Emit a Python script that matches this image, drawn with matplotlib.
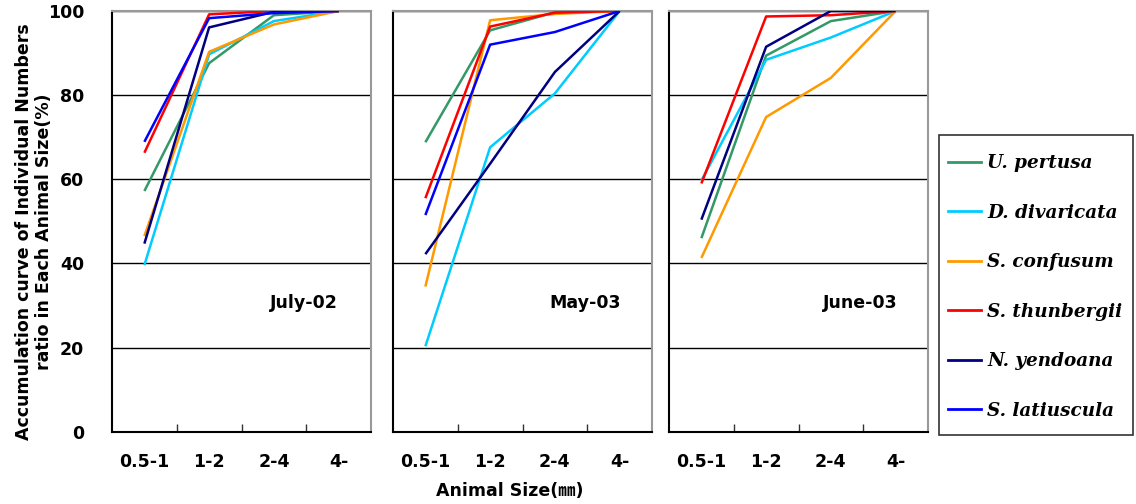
import matplotlib
matplotlib.use("Agg")
import matplotlib.pyplot as plt
from matplotlib.lines import Line2D
from matplotlib.patches import Rectangle

categories = ["0.5-1", "1-2", "2-4", "4-"]
species = ["U. pertusa", "D. divaricata", "S. confusum", "S. thunbergii", "N. yendoana", "S. latiuscula"]
colors = ["#339966", "#00CCFF", "#FF9900", "#FF0000", "#000080", "#0000FF"]
periods = ["July-02", "May-03", "June-03"]

july02_pertusa = [57.2, 87.6, 99.0, 100]
july02_divaricata = [39.6, 89.7, 97.6, 100]
july02_confusum = [46.5, 90.3, 96.8, 100]
july02_thunbergii = [66.3, 99.2, 100, 100]
july02_yendoana = [44.7, 96.1, 99.8, 100]
july02_latiuscula = [68.9, 98.3, 99.5, 100]

may03_pertusa = [68.8, 95.4, 99.7, 100]
may03_divaricata = [20.3, 67.6, 80.4, 100]
may03_confusum = [34.5, 97.8, 99.3, 100]
may03_thunbergii = [55.5, 96.3, 99.6, 100]
may03_yendoana = [42.2, 63.7, 85.5, 100]
may03_latiuscula = [51.5, 92.0, 95.0, 100]

june03_pertusa = [46.0, 89.4, 97.6, 100]
june03_divaricata = [59.7, 88.4, 93.7, 100]
june03_confusum = [41.3, 74.8, 84.1, 100]
june03_thunbergii = [59.0, 98.7, 99.0, 100]
june03_yendoana = [50.4, 91.5, 100, 100]
june03_latiuscula = [None, None, None, None]

data = [
    [july02_pertusa, july02_divaricata, july02_confusum, july02_thunbergii, july02_yendoana, july02_latiuscula],
    [may03_pertusa, may03_divaricata, may03_confusum, may03_thunbergii, may03_yendoana, may03_latiuscula],
    [june03_pertusa, june03_divaricata, june03_confusum, june03_thunbergii, june03_yendoana, june03_latiuscula],
]

GOTHIC = ["DejaVu Sans", "Noto Sans CJK JP"]
FS = 12.5

W, H = 1136, 504
fig = plt.figure(figsize=(W / 100, H / 100), dpi=100)

lefts = [112, 393, 669]
pw = 259
top_px, bot_px = 11, 431.7
x = list(range(len(categories)))

for i, (lp, period) in enumerate(zip(lefts, periods)):
    ax = fig.add_axes([lp / W, 1 - bot_px / H, pw / W, (bot_px - top_px) / H])
    for vals, col in zip(data[i], colors):
        if vals[0] is None:
            continue
        ax.plot(x, vals, color=col, lw=1.8, solid_capstyle="butt", zorder=3)
    ax.set_xlim(-0.5, 3.5)
    ax.set_ylim(0, 100)
    ax.set_yticks([0, 20, 40, 60, 80, 100])
    ax.yaxis.grid(True, color="black", lw=1)
    ax.set_axisbelow(True)
    ax.tick_params(axis="y", length=0, pad=20)
    if i == 0:
        ax.set_yticklabels([str(v) for v in [0, 20, 40, 60, 80, 100]],
                           fontsize=FS, fontweight="bold", family=GOTHIC)
    else:
        ax.set_yticklabels([])
    ax.set_xticks(x)
    ax.set_xticklabels(categories, fontsize=FS, fontweight="bold", family=GOTHIC)
    ax.tick_params(axis="x", which="major", length=0, pad=15)
    ax.set_xticks([0.5, 1.5, 2.5], minor=True)
    ax.tick_params(axis="x", which="minor", direction="in", length=6, width=1, color="#333333")
    for s in ["left", "bottom"]:
        ax.spines[s].set_color("black")
        ax.spines[s].set_linewidth(1.5)
    for s in ["top", "right"]:
        ax.spines[s].set_color("#999999")
        ax.spines[s].set_linewidth(1.5)
    ax.text(0.74, 0.305, period, transform=ax.transAxes, ha="center", va="center",
            fontsize=FS, fontweight="bold", family=GOTHIC)

fig.text(34 / W, 1 - 232 / H,
         "Accumulation curve of Individual Numbers\nratio in Each Animal Size(%)",
         rotation=90, ha="center", va="center", fontsize=FS, fontweight="bold",
         family=GOTHIC, linespacing=1.15)
fig.text(510 / W, 1 - 491 / H, "Animal Size(㎜)", ha="center", va="center",
         fontsize=FS, fontweight="bold", family=GOTHIC)

fig.patches.append(Rectangle((939 / W, 1 - 435 / H), 194 / W, 300 / H,
                             transform=fig.transFigure, fill=False,
                             edgecolor="#333333", lw=1.2))

LFS = 13.2
handles = [Line2D([0], [0], color=c, lw=2) for c in colors]
leg = fig.legend(handles, species, loc="upper left",
                 bbox_to_anchor=(948 / W, 1 - 154 / H),
                 frameon=False, handlelength=1.8, handletextpad=0.35,
                 labelspacing=1.72, borderpad=0, borderaxespad=0,
                 prop={"family": "DejaVu Serif", "style": "italic", "weight": "bold", "size": LFS})

fig.savefig("out.png", dpi=100)
